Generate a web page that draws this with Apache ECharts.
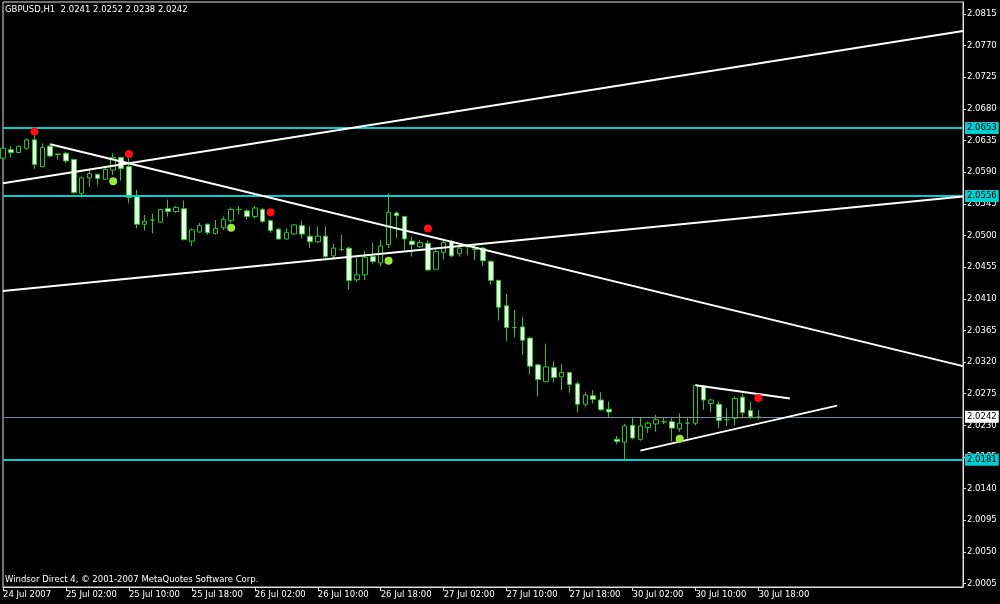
<!DOCTYPE html>
<html><head><meta charset="utf-8">
<script src="https://cdn.jsdelivr.net/npm/echarts@6/dist/echarts.min.js"></script>
<style>html,body{margin:0;padding:0;background:#000}#c{width:1000px;height:604px}</style>
</head><body><div id="c"></div>
<script>
// ---- data ----
const symbolName = 'GBPUSD,H1';
const opens  = [2.0610,2.0622,2.0618,2.0624,2.0636,2.0598,2.0627,2.0616,2.0617,2.0608,2.0560,2.0582,2.0587,2.0580,2.0593,2.0611,2.0598,2.0555,2.0516,2.0522,2.0519,2.0538,2.0534,2.0538,2.0492,2.0505,2.0516,2.0503,2.0511,2.0521,2.0537,2.0535,2.0527,2.0537,2.0521,2.0509,2.0495,2.0502,2.0514,2.0499,2.0491,2.0499,2.0471,2.0480,2.0482,2.0437,2.0444,2.0470,2.0461,2.0487,2.0532,2.0527,2.0492,2.0484,2.0489,2.0452,2.0476,2.0491,2.0474,2.0484,2.0480,2.0482,2.0463,2.0436,2.0400,2.0369,2.0370,2.0354,2.0316,2.0292,2.0312,2.0299,2.0305,2.0289,2.0260,2.0272,2.0266,2.0253,2.0210,2.0206,2.0230,2.0210,2.0227,2.0232,2.0235,2.0235,2.0225,2.0233,2.0233,2.0286,2.0261,2.0260,2.0238,2.0240,2.0270,2.0251,2.0241];
const highs  = [2.0626,2.0627,2.0628,2.0638,2.0644,2.0631,2.0629,2.0616,2.0619,2.0609,2.0584,2.0593,2.0588,2.0597,2.0617,2.0612,2.0611,2.0565,2.0529,2.0531,2.0538,2.0551,2.0542,2.0550,2.0510,2.0518,2.0517,2.0522,2.0527,2.0540,2.0542,2.0537,2.0542,2.0539,2.0522,2.0510,2.0510,2.0516,2.0521,2.0513,2.0513,2.0513,2.0488,2.0501,2.0484,2.0469,2.0478,2.0490,2.0494,2.0560,2.0534,2.0528,2.0498,2.0494,2.0493,2.0480,2.0494,2.0494,2.0487,2.0487,2.0487,2.0484,2.0465,2.0437,2.0417,2.0394,2.0384,2.0356,2.0317,2.0346,2.0321,2.0317,2.0306,2.0292,2.0277,2.0280,2.0277,2.0264,2.0215,2.0232,2.0242,2.0242,2.0235,2.0245,2.0242,2.0240,2.0247,2.0242,2.0288,2.0287,2.0268,2.0264,2.0254,2.0271,2.0275,2.0264,2.0252];
const lows   = [2.0608,2.0611,2.0617,2.0622,2.0595,2.0597,2.0612,2.0608,2.0603,2.0559,2.0554,2.0569,2.0572,2.0579,2.0586,2.0578,2.0546,2.0510,2.0507,2.0503,2.0518,2.0527,2.0532,2.0493,2.0485,2.0504,2.0501,2.0501,2.0508,2.0518,2.0530,2.0523,2.0524,2.0518,2.0504,2.0494,2.0494,2.0501,2.0496,2.0482,2.0489,2.0468,2.0468,2.0478,2.0423,2.0434,2.0437,2.0460,2.0456,2.0482,2.0496,2.0480,2.0470,2.0482,2.0449,2.0451,2.0466,2.0469,2.0470,2.0472,2.0465,2.0457,2.0430,2.0379,2.0350,2.0355,2.0330,2.0302,2.0271,2.0291,2.0291,2.0280,2.0276,2.0248,2.0256,2.0261,2.0251,2.0242,2.0203,2.0179,2.0210,2.0208,2.0219,2.0221,2.0232,2.0207,2.0221,2.0211,2.0230,2.0252,2.0249,2.0226,2.0229,2.0230,2.0240,2.0239,2.0238];
const closes = [2.0624,2.0618,2.0627,2.0636,2.0601,2.0625,2.0613,2.0615,2.0606,2.0561,2.0582,2.0588,2.0581,2.0594,2.0611,2.0595,2.0554,2.0516,2.0520,2.0522,2.0537,2.0534,2.0540,2.0494,2.0508,2.0514,2.0504,2.0510,2.0523,2.0537,2.0537,2.0527,2.0539,2.0520,2.0507,2.0495,2.0504,2.0515,2.0502,2.0491,2.0499,2.0470,2.0482,2.0480,2.0436,2.0444,2.0469,2.0463,2.0485,2.0533,2.0528,2.0495,2.0487,2.0490,2.0451,2.0477,2.0490,2.0471,2.0482,2.0484,2.0481,2.0464,2.0436,2.0398,2.0369,2.0369,2.0351,2.0314,2.0295,2.0313,2.0298,2.0305,2.0288,2.0260,2.0273,2.0267,2.0252,2.0249,2.0207,2.0229,2.0212,2.0229,2.0233,2.0238,2.0235,2.0226,2.0233,2.0233,2.0287,2.0266,2.0266,2.0237,2.0238,2.0268,2.0248,2.0242,2.0242];
const timeTicks = ['24 Jul 2007','25 Jul 02:00','25 Jul 10:00','25 Jul 18:00','26 Jul 02:00','26 Jul 10:00','26 Jul 18:00','27 Jul 02:00','27 Jul 10:00','27 Jul 18:00','30 Jul 02:00','30 Jul 10:00','30 Jul 18:00'];
const barsPerTick = 8;
const totalSlots = 123;
const priceTicks = [2.0005,2.0050,2.0095,2.0140,2.0185,2.0230,2.0275,2.0320,2.0365,2.0410,2.0455,2.0500,2.0545,2.0590,2.0635,2.0680,2.0725,2.0770,2.0815];
const priceMin = 2.0000, priceMax = 2.08321;
const levelLines = [2.0653, 2.0556, 2.0181];
const bidPrice = 2.0242;
const trendLines = [
  [[0, 2.05742], [122, 2.07909]],
  [[6, 2.06297], [122, 2.03142]],
  [[0, 2.04210], [122, 2.05556]],
  [[88, 2.0287], [100, 2.0268]],
  [[81, 2.0194], [106, 2.0258]]
];
const redDots = [[4, 2.0648], [16, 2.0616], [34, 2.0533], [54, 2.0510], [96, 2.0269]];
const greenDots = [[14, 2.0577], [29, 2.0511], [49, 2.0464], [86, 2.0211]];

// ---- chart ----
const FONT = 'DejaVu Sans';
const FS = 8.5;
const categories = Array.from({length: totalSlots}, (_, i) => String(i));
const candles = opens.map((o, i) => [o, closes[i], lows[i], highs[i]]);
const n = opens.length - 1;
const isTick = (i) => i % barsPerTick === 0 && (i / barsPerTick) < timeTicks.length;
const green = '#2bc52b';

const series = [{
  type: 'candlestick',
  data: candles,
  barWidth: 5,
  z: 3,
  itemStyle: {color: '#000', color0: '#eaffea', borderColor: green, borderColor0: green, borderColorDoji: green, borderWidth: 1},
  markLine: {
    symbol: ['none', 'none'], silent: true, animation: false, precision: 4,
    label: {show: true, position: 'end', distance: 2, formatter: p => Number(p.value).toFixed(4),
      fontSize: FS, fontFamily: FONT, padding: [2, 2, 1, 2]},
    data: levelLines.map(v => ({yAxis: v, lineStyle: {color: '#00ced1', width: 2, type: 'solid'},
      label: {backgroundColor: '#00ced1', color: '#000'}}))
      .concat([{yAxis: bidPrice, lineStyle: {color: '#778899', width: 1, type: 'solid'},
      label: {backgroundColor: '#fff', color: '#000'}}])
  }
}];
trendLines.forEach(tl => series.push({
  type: 'line', data: tl, symbol: 'none', z: 5, silent: true,
  lineStyle: {color: '#fff', width: 2}
}));
series.push({type: 'scatter', data: redDots, symbolSize: 8, z: 6, itemStyle: {color: '#ff1010', opacity: 1}});
series.push({type: 'scatter', data: greenDots, symbolSize: 8, z: 6, itemStyle: {color: '#9be83c', opacity: 1}});

const chart = echarts.init(document.getElementById('c'), null, {renderer: 'canvas'});
chart.setOption({
  backgroundColor: '#000',
  animation: false,
  title: [
    {text: `${symbolName}  ${opens[n].toFixed(4)} ${highs[n].toFixed(4)} ${lows[n].toFixed(4)} ${closes[n].toFixed(4)}`,
      left: 5, top: 5, padding: 0, textStyle: {color: '#fff', fontSize: FS, fontWeight: 'normal', fontFamily: FONT}},
    {text: 'Windsor Direct 4, © 2001-2007 MetaQuotes Software Corp.',
      left: 5, top: 575, padding: 0, textStyle: {color: '#fff', fontSize: FS, fontWeight: 'normal', fontFamily: FONT}}
  ],
  grid: {left: 3, right: 37, top: 2, bottom: 17, show: true, borderColor: '#e0e0e0', borderWidth: 1, backgroundColor: '#000', containLabel: false},
  xAxis: {
    type: 'category', data: categories, boundaryGap: false,
    axisLine: {show: true, lineStyle: {color: '#e0e0e0', width: 1}},
    axisTick: {show: true, interval: (i) => isTick(i), length: 4, lineStyle: {color: '#e0e0e0'}},
    axisLabel: {show: true, interval: (i) => isTick(i), align: 'left', margin: 3,
      formatter: (v, i) => isTick(i) ? timeTicks[i / barsPerTick] : '',
      color: '#fff', fontSize: FS, fontFamily: FONT},
    splitLine: {show: false}
  },
  yAxis: {
    type: 'value', position: 'right', min: priceMin, max: priceMax, scale: true,
    axisLine: {show: true, lineStyle: {color: '#e0e0e0', width: 1}},
    axisTick: {show: true, customValues: priceTicks, length: 3, lineStyle: {color: '#e0e0e0'}},
    axisLabel: {show: true, customValues: priceTicks, margin: 4, formatter: v => Number(v).toFixed(4),
      color: '#fff', fontSize: FS, fontFamily: FONT},
    splitLine: {show: false}
  },
  series
});
</script></body></html>
